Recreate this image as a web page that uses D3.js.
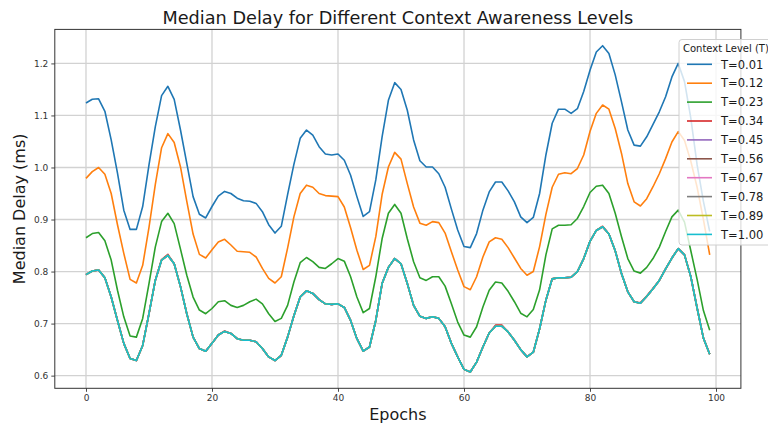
<!DOCTYPE html>
<html>
<head>
<meta charset="utf-8">
<script src="https://cdn.jsdelivr.net/npm/d3@7"></script>
<style>
  html, body { margin: 0; padding: 0; background: #fff; }
  svg { display: block; font-family: "DejaVu Sans", sans-serif; }
</style>
</head>
<body>
<svg id="chart" width="768" height="430"></svg>
<script>
// Median delay (ms) per epoch for each context awareness level T
const epochs = d3.range(0, 100);

const delayT001 = [
  1.124, 1.131, 1.132, 1.108, 1.053, 0.989, 0.918, 0.881, 0.881, 0.925,
  1.005, 1.078, 1.138, 1.156, 1.131, 1.072, 1.008, 0.944, 0.910, 0.903,
  0.925, 0.945, 0.954, 0.950, 0.941, 0.936, 0.935, 0.931, 0.915, 0.890,
  0.874, 0.887, 0.948, 1.006, 1.056, 1.072, 1.062, 1.040, 1.026, 1.024,
  1.026, 1.014, 0.985, 0.944, 0.906, 0.915, 0.976, 1.059, 1.129, 1.163,
  1.150, 1.110, 1.053, 1.013, 1.001, 1.001, 0.988, 0.962, 0.920, 0.880,
  0.848, 0.846, 0.873, 0.918, 0.953, 0.972, 0.972, 0.955, 0.934, 0.905,
  0.894, 0.904, 0.950, 1.024, 1.085, 1.112, 1.112, 1.104, 1.113, 1.146,
  1.187, 1.222, 1.234, 1.219, 1.178, 1.126, 1.072, 1.043, 1.041, 1.059,
  1.083, 1.107, 1.136, 1.174, 1.200, 1.165, 1.095, 1.005, 0.935, 0.877
];

const delayT012 = [
  0.979, 0.992, 1.000, 0.987, 0.950, 0.890, 0.835, 0.785, 0.778, 0.812,
  0.885, 0.967, 1.038, 1.065, 1.048, 1.001, 0.935, 0.872, 0.833, 0.826,
  0.842, 0.857, 0.862, 0.851, 0.839, 0.838, 0.837, 0.828, 0.806, 0.787,
  0.778, 0.790, 0.845, 0.905, 0.950, 0.966, 0.962, 0.950, 0.946, 0.945,
  0.944, 0.924, 0.884, 0.841, 0.804, 0.812, 0.867, 0.948, 1.001, 1.029,
  1.016, 0.969, 0.924, 0.893, 0.889, 0.896, 0.894, 0.874, 0.838, 0.803,
  0.771, 0.765, 0.790, 0.828, 0.857, 0.865, 0.862, 0.846, 0.826, 0.806,
  0.793, 0.800, 0.848, 0.910, 0.962, 0.987, 0.990, 0.988, 0.998, 1.024,
  1.069, 1.104, 1.120, 1.112, 1.075, 1.027, 0.969, 0.934, 0.926, 0.940,
  0.963, 0.988, 1.017, 1.049, 1.069, 1.052, 1.012, 0.962, 0.900, 0.832
];

const delayT023 = [
  0.865, 0.873, 0.875, 0.859, 0.822, 0.764, 0.713, 0.676, 0.674, 0.710,
  0.777, 0.847, 0.896, 0.912, 0.892, 0.843, 0.793, 0.751, 0.726, 0.719,
  0.729, 0.742, 0.744, 0.735, 0.731, 0.735, 0.742, 0.747, 0.738, 0.719,
  0.704, 0.710, 0.735, 0.780, 0.817, 0.827, 0.819, 0.808, 0.806, 0.815,
  0.825, 0.820, 0.790, 0.751, 0.721, 0.729, 0.790, 0.863, 0.912, 0.929,
  0.912, 0.863, 0.819, 0.788, 0.783, 0.790, 0.790, 0.772, 0.738, 0.703,
  0.678, 0.674, 0.694, 0.732, 0.764, 0.780, 0.778, 0.762, 0.742, 0.720,
  0.713, 0.727, 0.765, 0.832, 0.882, 0.889, 0.889, 0.890, 0.902, 0.925,
  0.952, 0.964, 0.966, 0.950, 0.912, 0.867, 0.825, 0.801, 0.797, 0.808,
  0.825, 0.847, 0.877, 0.905, 0.918, 0.895, 0.840, 0.785, 0.725, 0.687
];

const delayT034 = [
  0.794, 0.801, 0.803, 0.788, 0.751, 0.706, 0.662, 0.633, 0.629, 0.658,
  0.719, 0.783, 0.823, 0.833, 0.815, 0.771, 0.719, 0.674, 0.652, 0.647,
  0.662, 0.678, 0.686, 0.681, 0.671, 0.668, 0.668, 0.665, 0.652, 0.636,
  0.629, 0.639, 0.674, 0.715, 0.751, 0.763, 0.758, 0.746, 0.738, 0.737,
  0.738, 0.731, 0.706, 0.671, 0.647, 0.655, 0.706, 0.777, 0.808, 0.825,
  0.815, 0.777, 0.735, 0.714, 0.710, 0.713, 0.710, 0.694, 0.662, 0.636,
  0.612, 0.607, 0.626, 0.655, 0.682, 0.697, 0.697, 0.684, 0.668, 0.650,
  0.636, 0.645, 0.690, 0.745, 0.786, 0.788, 0.788, 0.789, 0.800, 0.825,
  0.858, 0.879, 0.887, 0.872, 0.840, 0.796, 0.761, 0.742, 0.740, 0.753,
  0.768, 0.783, 0.805, 0.826, 0.844, 0.832, 0.790, 0.730, 0.672, 0.641
];

// T = 0.45 … 1.00 trace the same path
const delayHigh = [
  0.794, 0.801, 0.803, 0.788, 0.751, 0.706, 0.662, 0.633, 0.629, 0.658,
  0.719, 0.783, 0.822, 0.831, 0.815, 0.771, 0.719, 0.674, 0.652, 0.647,
  0.662, 0.678, 0.685, 0.681, 0.671, 0.668, 0.668, 0.665, 0.652, 0.636,
  0.629, 0.639, 0.674, 0.715, 0.751, 0.763, 0.758, 0.746, 0.738, 0.737,
  0.738, 0.731, 0.706, 0.671, 0.647, 0.655, 0.706, 0.777, 0.808, 0.825,
  0.815, 0.777, 0.735, 0.714, 0.710, 0.713, 0.710, 0.694, 0.662, 0.636,
  0.612, 0.607, 0.626, 0.655, 0.682, 0.695, 0.695, 0.684, 0.668, 0.650,
  0.636, 0.645, 0.690, 0.745, 0.786, 0.788, 0.788, 0.789, 0.800, 0.825,
  0.858, 0.879, 0.886, 0.872, 0.840, 0.796, 0.761, 0.742, 0.739, 0.752,
  0.767, 0.783, 0.805, 0.826, 0.844, 0.832, 0.790, 0.730, 0.672, 0.641
];

const contextLevels = ["T=0.01", "T=0.12", "T=0.23", "T=0.34", "T=0.45",
                       "T=0.56", "T=0.67", "T=0.78", "T=0.89", "T=1.00"];
const seriesValues = [delayT001, delayT012, delayT023, delayT034, delayHigh,
                      delayHigh, delayHigh, delayHigh, delayHigh, delayHigh];
const xTicks = [0, 20, 40, 60, 80, 100];
const yTicks = [0.6, 0.7, 0.8, 0.9, 1.0, 1.1, 1.2];

const palette = ["#1f77b4", "#ff7f0e", "#2ca02c", "#d62728", "#9467bd",
                 "#8c564b", "#e377c2", "#7f7f7f", "#bcbd22", "#17becf"];

const svg = d3.select("#chart");
const plot = { left: 54.8, right: 740.9, top: 29.4, bottom: 388.3 };

// axis limits padded by 5% of the data span
const allVals = seriesValues.flat();
const yMin = d3.min(allVals), yMax = d3.max(allVals);
const yPad = (yMax - yMin) * 0.05;
const x = d3.scaleLinear().domain([-4.95, 103.95]).range([plot.left, plot.right]);
const y = d3.scaleLinear().domain([yMin - yPad, yMax + yPad]).range([plot.bottom, plot.top]);

// grid
const grid = svg.append("g").attr("stroke", "#d2d2d2").attr("stroke-width", 1.3);
grid.selectAll("line.v").data(xTicks).join("line")
  .attr("x1", d => x(d)).attr("x2", d => x(d))
  .attr("y1", plot.top).attr("y2", plot.bottom);
grid.selectAll("line.h").data(yTicks).join("line")
  .attr("x1", plot.left).attr("x2", plot.right)
  .attr("y1", d => y(d)).attr("y2", d => y(d));

// series lines
const line = d3.line().x((d, i) => x(epochs[i])).y(d => y(d));
svg.append("g").selectAll("path").data(seriesValues).join("path")
  .attr("d", d => line(d))
  .attr("fill", "none")
  .attr("stroke", (d, i) => palette[i])
  .attr("stroke-width", 1.6)
  .attr("stroke-linejoin", "round");

// axes
const xAxis = d3.axisBottom(x).tickValues(xTicks).tickFormat(d3.format("d"))
  .tickSize(3.5).tickPadding(3);
const yAxis = d3.axisLeft(y).tickValues(yTicks).tickFormat(d3.format(".1f"))
  .tickSize(3.5).tickPadding(3);

const gx = svg.append("g").attr("transform", `translate(0,${plot.bottom})`).call(xAxis);
const gy = svg.append("g").attr("transform", `translate(${plot.left},0)`).call(yAxis);
[gx, gy].forEach(g => {
  g.select(".domain").remove();
  g.selectAll(".tick line").attr("stroke", "#333").attr("stroke-width", 0.9);
  g.selectAll(".tick text").attr("fill", "#333")
    .style("font-family", "DejaVu Sans").style("font-size", "9px");
});

// frame
svg.append("rect")
  .attr("x", plot.left).attr("y", plot.top)
  .attr("width", plot.right - plot.left).attr("height", plot.bottom - plot.top)
  .attr("fill", "none").attr("stroke", "#333").attr("stroke-width", 1);

// titles
svg.append("text")
  .attr("x", (plot.left + plot.right) / 2).attr("y", 23.5)
  .attr("text-anchor", "middle").attr("fill", "#1a1a1a")
  .style("font-size", "17.7px")
  .text("Median Delay for Different Context Awareness Levels");

svg.append("text")
  .attr("x", (plot.left + plot.right) / 2).attr("y", 420)
  .attr("text-anchor", "middle").attr("fill", "#1a1a1a")
  .style("font-size", "16px")
  .text("Epochs");

svg.append("text")
  .attr("transform", `translate(25,${(plot.top + plot.bottom) / 2}) rotate(-90)`)
  .attr("text-anchor", "middle").attr("fill", "#1a1a1a")
  .style("font-size", "16px")
  .text("Median Delay (ms)");

// legend
const legend = svg.append("g").attr("transform", "translate(679,39.5)");
legend.append("rect")
  .attr("x", 0).attr("y", 0).attr("width", 100).attr("height", 205.5)
  .attr("rx", 3).attr("fill", "#fff").attr("fill-opacity", 0.8)
  .attr("stroke", "#d0d0d0").attr("stroke-width", 1);
legend.append("text")
  .attr("x", 4).attr("y", 12.2).attr("fill", "#1a1a1a")
  .style("font-size", "10px")
  .text("Context Level (T)");
const rows = legend.selectAll("g.row").data(contextLevels).join("g")
  .attr("transform", (d, i) => `translate(0,${24.8 + i * 18.9})`);
rows.append("line")
  .attr("x1", 8).attr("x2", 33).attr("y1", 0).attr("y2", 0)
  .attr("stroke", (d, i) => palette[i]).attr("stroke-width", 1.6);
rows.append("text")
  .attr("x", 42).attr("y", 4.2).attr("fill", "#1a1a1a")
  .style("font-size", "11.5px")
  .text(d => d);
</script>
</body>
</html>
